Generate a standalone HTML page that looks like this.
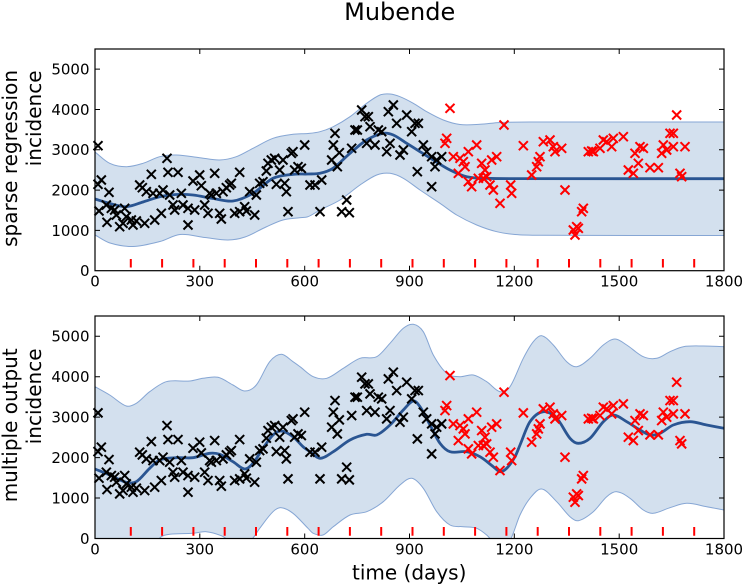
<!DOCTYPE html>
<html>
<head>
<meta charset="utf-8">
<style>
html,body{margin:0;padding:0;background:#fff;}
svg{display:block;}
text{font-family:"DejaVu Sans","Liberation Sans",sans-serif;fill:#000;}
</style>
</head>
<body>
<svg id="fig" width="745" height="584" viewBox="0 0 745 584" xmlns="http://www.w3.org/2000/svg" xmlns:xlink="http://www.w3.org/1999/xlink">
<defs>
  <clipPath id="c1"><rect x="95" y="49" width="629" height="221.7"/></clipPath>
  <clipPath id="c2"><rect x="95" y="316" width="629" height="222.5"/></clipPath>
  <path id="mk" d="M-13.5-13.5L13.5 13.5M13.5-13.5L-13.5 13.5"/>
  <g id="pts">
    <g stroke="#000" stroke-width="6" fill="none">
      <g transform="translate(93,95) scale(0.33333)">
        <use href="#mk" x="15" y="152"/><use href="#mk" x="25" y="255"/><use href="#mk" x="15" y="268"/><use href="#mk" x="48" y="292"/><use href="#mk" x="18" y="348"/><use href="#mk" x="40" y="330"/><use href="#mk" x="42" y="382"/><use href="#mk" x="55" y="340"/><use href="#mk" x="65" y="345"/><use href="#mk" x="70" y="360"/><use href="#mk" x="80" y="395"/><use href="#mk" x="95" y="340"/><use href="#mk" x="100" y="365"/><use href="#mk" x="90" y="385"/><use href="#mk" x="115" y="375"/><use href="#mk" x="120" y="390"/><use href="#mk" x="130" y="378"/><use href="#mk" x="155" y="385"/><use href="#mk" x="140" y="270"/><use href="#mk" x="148" y="278"/><use href="#mk" x="160" y="290"/><use href="#mk" x="175" y="238"/><use href="#mk" x="180" y="295"/><use href="#mk" x="185" y="375"/><use href="#mk" x="200" y="295"/><use href="#mk" x="205" y="355"/><use href="#mk" x="210" y="285"/><use href="#mk" x="222" y="190"/><use href="#mk" x="225" y="232"/><use href="#mk" x="230" y="300"/><use href="#mk" x="245" y="345"/><use href="#mk" x="240" y="330"/><use href="#mk" x="255" y="232"/><use href="#mk" x="265" y="295"/><use href="#mk" x="270" y="330"/><use href="#mk" x="285" y="390"/><use href="#mk" x="285" y="340"/><use href="#mk" x="300" y="258"/><use href="#mk" x="305" y="345"/><use href="#mk" x="320" y="240"/><use href="#mk" x="325" y="272"/><use href="#mk" x="335" y="330"/><use href="#mk" x="345" y="355"/><use href="#mk" x="350" y="295"/><use href="#mk" x="355" y="300"/><use href="#mk" x="365" y="235"/><use href="#mk" x="370" y="295"/><use href="#mk" x="380" y="355"/><use href="#mk" x="385" y="372"/><use href="#mk" x="390" y="290"/><use href="#mk" x="400" y="278"/><use href="#mk" x="410" y="270"/><use href="#mk" x="415" y="265"/><use href="#mk" x="440" y="232"/><use href="#mk" x="425" y="355"/><use href="#mk" x="440" y="350"/><use href="#mk" x="455" y="335"/><use href="#mk" x="460" y="348"/><use href="#mk" x="470" y="290"/><use href="#mk" x="485" y="360"/><use href="#mk" x="490" y="300"/><use href="#mk" x="500" y="265"/><use href="#mk" x="510" y="260"/><use href="#mk" x="520" y="228"/><use href="#mk" x="525" y="205"/><use href="#mk" x="535" y="195"/><use href="#mk" x="545" y="190"/><use href="#mk" x="550" y="268"/><use href="#mk" x="560" y="225"/><use href="#mk" x="575" y="265"/><use href="#mk" x="580" y="290"/><use href="#mk" x="570" y="195"/><use href="#mk" x="585" y="350"/><use href="#mk" x="595" y="175"/><use href="#mk" x="600" y="170"/><use href="#mk" x="605" y="225"/><use href="#mk" x="615" y="215"/><use href="#mk" x="625" y="220"/><use href="#mk" x="635" y="150"/>
      </g>
      <g transform="translate(300,90) scale(0.33333)">
        <use href="#mk" x="30" y="285"/><use href="#mk" x="45" y="285"/><use href="#mk" x="65" y="270"/><use href="#mk" x="60" y="365"/><use href="#mk" x="105" y="130"/><use href="#mk" x="100" y="165"/><use href="#mk" x="95" y="210"/><use href="#mk" x="118" y="188"/><use href="#mk" x="112" y="230"/><use href="#mk" x="125" y="365"/><use href="#mk" x="140" y="330"/><use href="#mk" x="148" y="368"/><use href="#mk" x="155" y="175"/><use href="#mk" x="165" y="120"/><use href="#mk" x="172" y="120"/><use href="#mk" x="185" y="60"/><use href="#mk" x="195" y="80"/><use href="#mk" x="205" y="80"/><use href="#mk" x="210" y="110"/><use href="#mk" x="200" y="160"/><use href="#mk" x="225" y="165"/><use href="#mk" x="235" y="120"/><use href="#mk" x="245" y="125"/><use href="#mk" x="260" y="185"/><use href="#mk" x="265" y="65"/><use href="#mk" x="280" y="45"/><use href="#mk" x="270" y="160"/><use href="#mk" x="290" y="100"/><use href="#mk" x="300" y="195"/><use href="#mk" x="310" y="180"/><use href="#mk" x="320" y="75"/><use href="#mk" x="335" y="125"/><use href="#mk" x="345" y="100"/><use href="#mk" x="355" y="100"/><use href="#mk" x="352" y="245"/><use href="#mk" x="370" y="165"/><use href="#mk" x="380" y="185"/><use href="#mk" x="395" y="290"/><use href="#mk" x="405" y="230"/><use href="#mk" x="395" y="200"/><use href="#mk" x="410" y="210"/><use href="#mk" x="425" y="200"/>
      </g>
    </g>
    <g stroke="#ff0000" stroke-width="6" fill="none">
      <g transform="translate(300,90) scale(0.33333)">
        <use href="#mk" x="450" y="55"/><use href="#mk" x="440" y="145"/><use href="#mk" x="435" y="160"/><use href="#mk" x="460" y="200"/><use href="#mk" x="480" y="205"/><use href="#mk" x="475" y="250"/><use href="#mk" x="490" y="215"/><use href="#mk" x="495" y="230"/><use href="#mk" x="505" y="185"/><use href="#mk" x="530" y="165"/><use href="#mk" x="545" y="220"/><use href="#mk" x="555" y="240"/><use href="#mk" x="560" y="260"/><use href="#mk" x="575" y="210"/><use href="#mk" x="590" y="200"/><use href="#mk" x="505" y="275"/><use href="#mk" x="515" y="290"/><use href="#mk" x="535" y="265"/><use href="#mk" x="550" y="265"/><use href="#mk" x="570" y="285"/><use href="#mk" x="580" y="300"/><use href="#mk" x="600" y="340"/><use href="#mk" x="612" y="105"/><use href="#mk" x="632" y="285"/><use href="#mk" x="635" y="310"/>
      </g>
      <g transform="translate(440,95) scale(0.33333)">
        <use href="#mk" x="250" y="152"/><use href="#mk" x="275" y="240"/><use href="#mk" x="290" y="215"/><use href="#mk" x="295" y="200"/><use href="#mk" x="300" y="185"/><use href="#mk" x="310" y="140"/><use href="#mk" x="330" y="135"/><use href="#mk" x="340" y="155"/><use href="#mk" x="345" y="170"/><use href="#mk" x="365" y="160"/><use href="#mk" x="375" y="285"/><use href="#mk" x="400" y="405"/><use href="#mk" x="410" y="395"/><use href="#mk" x="405" y="420"/><use href="#mk" x="415" y="400"/><use href="#mk" x="425" y="350"/><use href="#mk" x="430" y="340"/><use href="#mk" x="445" y="170"/><use href="#mk" x="455" y="168"/><use href="#mk" x="460" y="170"/><use href="#mk" x="480" y="160"/><use href="#mk" x="490" y="135"/><use href="#mk" x="500" y="140"/><use href="#mk" x="515" y="155"/><use href="#mk" x="520" y="130"/><use href="#mk" x="550" y="125"/><use href="#mk" x="565" y="225"/><use href="#mk" x="580" y="235"/><use href="#mk" x="585" y="175"/><use href="#mk" x="595" y="205"/><use href="#mk" x="600" y="155"/><use href="#mk" x="610" y="160"/><use href="#mk" x="630" y="218"/><use href="#mk" x="655" y="218"/><use href="#mk" x="665" y="175"/><use href="#mk" x="670" y="150"/><use href="#mk" x="680" y="165"/><use href="#mk" x="690" y="115"/><use href="#mk" x="700" y="115"/><use href="#mk" x="700" y="155"/><use href="#mk" x="710" y="60"/><use href="#mk" x="720" y="235"/><use href="#mk" x="725" y="245"/><use href="#mk" x="735" y="155"/>
      </g>
    </g>
  </g>
</defs>

<!-- Title -->
<text x="399.7" y="20" font-size="24" text-anchor="middle">Mubende</text>

<!-- ===== TOP PLOT ===== -->
<g clip-path="url(#c1)">
  <polygon class="s" fill="#d3e0ee" stroke="#86a6d4" stroke-width="1" stroke-linejoin="round"
    points="95,152 109.7,163.3 126.3,166.7 143,163.3 159.7,156.7 176.3,155 199.7,157.7 219.7,160 236.3,156.7 253,148.3 273,138.3 293,134.3 308,133.5 320,131.7 333.3,126.7 350,116.7 366.7,103.3 380,95 390,94 400,96.7 413.3,103.3 426.7,111.7 443.3,120 460,124.5 480,124.3 500,122.5 530,122 724,122 724,235.5 540,235.3 515,234.5 496.7,231.7 476.7,225 456.7,215 440,203.3 420,190 403.3,178.3 390,173.3 376.7,175 360,185 340,200 320,210 308,216.7 299.7,217.7 283,220 266,227 245,237 228,240 205,237.5 180,234.5 160,241.5 133,246.5 110,243 95,235"/>
  <polyline class="s" fill="none" stroke="#2a5592" stroke-width="2.8" stroke-linejoin="round"
    points="95,199 110,203.5 126.3,206.7 143,202 159.7,196.7 176,194.5 193,195 213,198.5 233,201 253,193.3 273,178.3 293,174.3 308,174 320,173.3 333,168.3 350,153.3 366.7,140 383.3,133.3 393.3,135 406.7,143.3 420,151.7 433.3,160 450,170 466.7,176.7 486.7,178.3 515,178.6 724,178.7"/>
</g>
<use href="#pts"/>
<path stroke="#ff0000" stroke-width="2" fill="none"
  d="M130.8 259V267.5M162.1 259V267.5M193.4 259V267.5M224.7 259V267.5M256 259V267.5M287.3 259V267.5M318.6 259V267.5M349.9 259V267.5M381.2 259V267.5M412.5 259V267.5M443.8 259V267.5M475.1 259V267.5M506.4 259V267.5M537.7 259V267.5M569 259V267.5M600.3 259V267.5M631.6 259V267.5M662.9 259V267.5M694.2 259V267.5"/>
<rect x="95" y="49" width="629" height="221.7" fill="none" stroke="#000" stroke-width="1.2"/>
<path stroke="#000" stroke-width="1" fill="none"
  d="M199.8 270.7v-5M304.7 270.7v-5M409.5 270.7v-5M514.3 270.7v-5M619.2 270.7v-5
     M199.8 49v5M304.7 49v5M409.5 49v5M514.3 49v5M619.2 49v5
     M95 230.4h5M95 190.1h5M95 149.8h5M95 109.5h5M95 69.1h5
     M724 230.4h-5M724 190.1h-5M724 149.8h-5M724 109.5h-5M724 69.1h-5"/>
<g font-size="15" text-anchor="end">
  <text x="89.5" y="276.1">0</text>
  <text x="89.5" y="235.8">1000</text>
  <text x="89.5" y="195.5">2000</text>
  <text x="89.5" y="155.2">3000</text>
  <text x="89.5" y="114.9">4000</text>
  <text x="89.5" y="74.5">5000</text>
</g>
<g font-size="15" text-anchor="middle">
  <text x="95" y="286.5">0</text>
  <text x="199.8" y="286.5">300</text>
  <text x="304.7" y="286.5">600</text>
  <text x="409.5" y="286.5">900</text>
  <text x="514.3" y="286.5">1200</text>
  <text x="619.2" y="286.5">1500</text>
  <text x="724" y="286.5">1800</text>
</g>
<g font-size="20" text-anchor="end">
  <text transform="translate(17,70) rotate(-90)">sparse regression</text>
  <text transform="translate(41,70.5) rotate(-90)">incidence</text>
</g>

<!-- ===== BOTTOM PLOT ===== -->
<g clip-path="url(#c2)">
  <polygon class="s" fill="#d3e0ee" stroke="#86a6d4" stroke-width="1" stroke-linejoin="round"
    points="95,386.7 109.7,395 126.3,406 136.3,403.3 149.7,391.7 166.3,381.7 189.7,381 203,378.3 218,377.3 233,385 244.7,391 256.3,385 269.7,361.7 281.3,354.3 293,361.7 300,366.7 313.3,376.7 326.7,378.3 343.3,368.3 360,358.3 376.7,356.7 390,343.3 403.3,328.3 413.3,324.3 423.3,331.7 433.3,355 446.7,373.3 460,376.7 473.3,375 486.7,381.7 500,391.7 510,386.7 523.3,358.3 533.3,341.7 541.7,335.7 553.3,345 566.7,361.7 576.7,366.7 590,358.3 603.3,345 615,339 626.7,345 643.3,356.7 656.7,358.3 670,351.7 683.3,346.7 703.3,346 724,346.7 724,510 706.7,506.7 686.7,503.3 670,507.7 653.3,513.3 643.3,510 630,498.3 616.7,491.7 606.7,496.7 593.3,511.7 578.3,520.7 570,516.7 556.7,501.7 541.7,489 530,498.3 520,515 510,540 497,545 486.7,535 476.7,528.3 463.3,526.7 450,525 436.7,511.7 423.3,488.3 411.7,478.3 400,485 383.3,501.7 366.7,511.7 350,515 333.3,526.7 323,535 313.3,533.3 308,528.3 293,513.3 281.3,507.7 273,511.7 259.7,528.3 253,538 245,545 232,542 221.3,535.7 206.3,531.7 193,533.3 169.7,534.3 161.3,536.7 150,548 120,565 95,560"/>
  <polyline class="s" fill="none" stroke="#2a5592" stroke-width="2.8" stroke-linejoin="round"
    points="95,469 109.7,475 126.3,482.3 136.3,481.7 149.7,468.3 159.7,460 176.3,457.7 193,457.7 209.7,453.3 219.7,454.3 233,461.7 244.7,469 253,463.3 263,448.3 273,435 281.3,431 293,436.7 303,446.7 310,451.7 320,458.3 333.3,451.7 350,440 366.7,434.3 376.7,435 390,425 403.3,410 413.3,401 420,406.7 430,425 440,443.3 450,451.7 466.7,451.7 480,456.7 493.3,466.7 500,471.7 506.7,468.3 515,456.7 520,445 530,421.7 543.3,411.7 556.7,418.3 570,438.3 578.3,443.3 590,438.3 603.3,421.7 613.3,415 626.7,421.7 640,430 650,435 660,433.3 673.3,425 690,421.7 706.7,425 724,428.3"/>
</g>
<use href="#pts" transform="translate(0,267.2)"/>
<path stroke="#ff0000" stroke-width="2" fill="none"
  d="M130.8 527V535.7M162.1 527V535.7M193.4 527V535.7M224.7 527V535.7M256 527V535.7M287.3 527V535.7M318.6 527V535.7M349.9 527V535.7M381.2 527V535.7M412.5 527V535.7M443.8 527V535.7M475.1 527V535.7M506.4 527V535.7M537.7 527V535.7M569 527V535.7M600.3 527V535.7M631.6 527V535.7M662.9 527V535.7M694.2 527V535.7"/>
<rect x="95" y="316" width="629" height="222.5" fill="none" stroke="#000" stroke-width="1.2"/>
<path stroke="#000" stroke-width="1" fill="none"
  d="M199.8 538.5v-5M304.7 538.5v-5M409.5 538.5v-5M514.3 538.5v-5M619.2 538.5v-5
     M199.8 316v5M304.7 316v5M409.5 316v5M514.3 316v5M619.2 316v5
     M95 498h5M95 457.6h5M95 417.1h5M95 376.7h5M95 336.2h5
     M724 498h-5M724 457.6h-5M724 417.1h-5M724 376.7h-5M724 336.2h-5"/>
<g font-size="15" text-anchor="end">
  <text x="89.5" y="543.9">0</text>
  <text x="89.5" y="503.4">1000</text>
  <text x="89.5" y="463">2000</text>
  <text x="89.5" y="422.5">3000</text>
  <text x="89.5" y="382.1">4000</text>
  <text x="89.5" y="341.6">5000</text>
</g>
<g font-size="15" text-anchor="middle">
  <text x="95" y="554.5">0</text>
  <text x="199.8" y="554.5">300</text>
  <text x="304.7" y="554.5">600</text>
  <text x="409.5" y="554.5">900</text>
  <text x="514.3" y="554.5">1200</text>
  <text x="619.2" y="554.5">1500</text>
  <text x="724" y="554.5">1800</text>
</g>
<g font-size="20" text-anchor="end">
  <text transform="translate(17,348.3) rotate(-90)">multiple output</text>
  <text transform="translate(41,348.5) rotate(-90)">incidence</text>
</g>
<text x="409.2" y="579.5" font-size="20" text-anchor="middle">time (days)</text>
</svg>
<script>
(function(){
  function parse(s){
    return s.trim().split(/\s+/).map(function(p){var a=p.split(',');return [parseFloat(a[0]),parseFloat(a[1])];});
  }
  function smooth(P){
    var n=P.length,m=[],i,d;
    for(i=0;i<n;i++){
      var a=P[Math.max(0,i-1)],b=P[Math.min(n-1,i+1)];
      var dx=b[0]-a[0];
      m[i]=dx===0?0:(b[1]-a[1])/dx;
    }
    d='M'+P[0][0].toFixed(2)+' '+P[0][1].toFixed(2);
    for(i=0;i<n-1;i++){
      var x0=P[i][0],y0=P[i][1],x1=P[i+1][0],y1=P[i+1][1],h=x1-x0;
      var c1x=x0+h/3,c1y=y0+m[i]*h/3,c2x=x1-h/3,c2y=y1-m[i+1]*h/3;
      d+='C'+c1x.toFixed(2)+' '+c1y.toFixed(2)+' '+c2x.toFixed(2)+' '+c2y.toFixed(2)+' '+x1.toFixed(2)+' '+y1.toFixed(2);
    }
    return d;
  }
  var ns='http://www.w3.org/2000/svg';
  var els=document.querySelectorAll('.s');
  for(var k=0;k<els.length;k++){
    var el=els[k];
    var P=parse(el.getAttribute('points'));
    var d;
    if(el.tagName.toLowerCase()==='polygon'){
      var idx=-1;
      for(var j=0;j<P.length;j++){ if(P[j][0]>=724){idx=j;break;} }
      var up=P.slice(0,idx+1), lo=P.slice(idx+1);
      d=smooth(up)+' L'+smooth(lo).slice(1)+'Z';
    } else {
      d=smooth(P);
    }
    var path=document.createElementNS(ns,'path');
    var attrs=['fill','stroke','stroke-width','stroke-linejoin'];
    for(var a=0;a<attrs.length;a++){var v=el.getAttribute(attrs[a]);if(v!==null)path.setAttribute(attrs[a],v);}
    path.setAttribute('d',d);
    el.parentNode.replaceChild(path,el);
  }
})();
</script>
</body>
</html>
